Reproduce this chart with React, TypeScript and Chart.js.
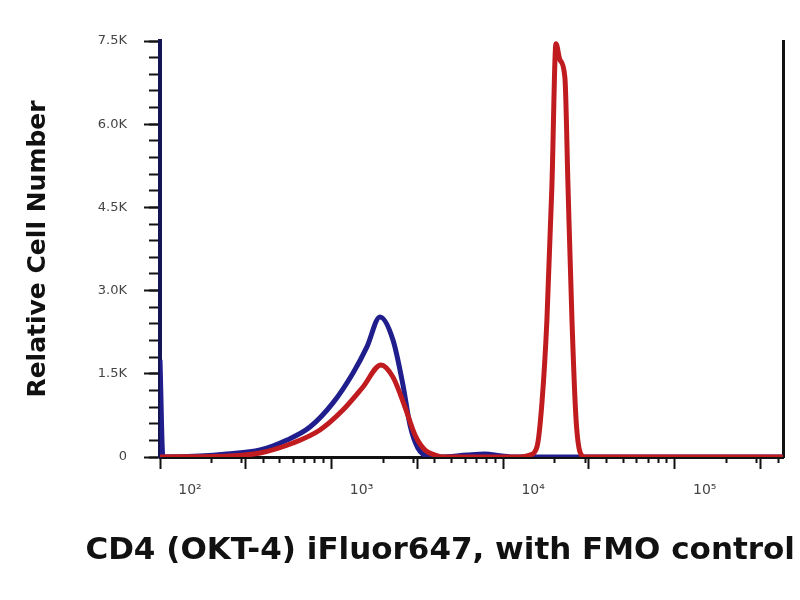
import React, { useEffect, useRef } from "react";
import { Chart, registerables } from "chart.js";

Chart.register(...registerables);

// ---- data (x = fluorescence intensity, y = cell count) ----
const blueX = [100, 104, 171, 245, 383, 550, 748, 1019, 1334, 1607, 1914, 2280, 2606, 2864, 3184, 3648, 4285, 6150, 7834, 9572, 11720, 427600];
const blueY = [1750, 0, 18, 54, 126, 306, 540, 975, 1515, 1985, 2525, 2110, 1300, 577, 162, 18, 0, 36, 54, 24, 0, 0];

const redX = [100, 256, 383, 596, 855, 1164, 1524, 1941, 2280, 2679, 3063, 3502, 4007, 4581, 12530, 14320, 15740, 16830, 17990, 19230, 20320, 21430, 22910, 23880, 25180, 26550, 28050, 29990, 427600];
const redY = [0, 18, 72, 252, 487, 847, 1262, 1660, 1440, 900, 397, 126, 36, 0, 0, 36, 180, 975, 2470, 4870, 7450, 7160, 6835, 4870, 2470, 720, 90, 0, 0];

const yMajorTicks = [0, 1500, 3000, 4500, 6000, 7500];
const yTickLabels = ["0", "1.5K", "3.0K", "4.5K", "6.0K", "7.5K"];
const yMinorStep = 300;

const xDecades = [100, 1000, 10000, 100000];
const xTickLabels = ["10\u00B2", "10\u00B3", "10\u2074", "10\u2075"];
const xMin = 100;
const xMax = 427600;
const yMax = 7500;

const xTitle = "CD4 (OKT-4) iFluor647, with FMO control";
const yTitle = "Relative Cell Number";

export default function App() {
  const ref = useRef<HTMLCanvasElement | null>(null);

  useEffect(() => {
    if (!ref.current) return;
    const blue = blueX.map((x, i) => ({ x, y: blueY[i] }));
    const red = redX.map((x, i) => ({ x, y: redY[i] }));

    const xMajor: number[] = [];
    xDecades.forEach((d) => {
      xMajor.push(d);
      if (d * Math.sqrt(10) <= xMax) xMajor.push(d * Math.sqrt(10));
    });
    const xMinorT: number[] = [];
    xDecades.forEach((d) => {
      for (let k = 2; k <= 9; k++) if (d * k <= xMax) xMinorT.push(d * k);
    });
    const yMinorT: number[] = [];
    for (let v = 0; v <= yMax; v += yMinorStep) yMinorT.push(v);

    const chart = new Chart(ref.current, {
      type: "line",
      data: {
        datasets: [
          {
            data: red,
            borderColor: "rgb(192,28,32)",
            borderWidth: 5,
            pointRadius: 0,
            cubicInterpolationMode: "monotone",
            fill: false,
          },
          {
            data: blue,
            borderColor: "rgb(32,30,140)",
            borderWidth: 5,
            pointRadius: 0,
            cubicInterpolationMode: "monotone",
            fill: false,
          },
        ],
      },
      options: {
        animation: false,
        responsive: false,
        layout: { padding: { top: 41, right: 5, left: 0, bottom: 0 } },
        plugins: {
          legend: { display: false },
          tooltip: { enabled: false },
          title: {
            display: true,
            position: "bottom",
            align: "end",
            text: xTitle,
            color: "#111",
            font: { family: "DejaVu Sans", size: 31, weight: "bold" },
            padding: { top: 10, bottom: 30 },
          },
        },
        scales: {
          x: {
            type: "logarithmic",
            position: "bottom",
            weight: 1,
            min: xMin,
            max: xMax,
            afterBuildTicks: (s: any) => {
              s.ticks = xMajor.map((v) => ({ value: v }));
            },
            afterFit: (s: any) => {
              s.height = 65.8;
            },
            grid: { drawOnChartArea: false, drawTicks: true, tickLength: 12, tickWidth: 2, tickColor: "#111" },
            border: { display: true, color: "#111", width: 3 },
            ticks: {
              autoSkip: false,
              maxRotation: 0,
              padding: 13,
              labelOffset: 30,
              color: "#444",
              font: { family: "DejaVu Sans", size: 14 },
              callback: (v: any) => {
                const i = xDecades.findIndex((d) => Math.abs(Number(v) / d - 1) < 1e-6);
                return i >= 0 ? xTickLabels[i] : "";
              },
            },
          },
          xMinor: {
            type: "logarithmic",
            position: "bottom",
            weight: 0,
            min: xMin,
            max: xMax,
            afterBuildTicks: (s: any) => {
              s.ticks = xMinorT.map((v) => ({ value: v }));
            },
            afterFit: (s: any) => {
              s.height = 0;
            },
            grid: { drawOnChartArea: false, drawTicks: true, tickLength: 6, tickWidth: 2, tickColor: "#111" },
            border: { display: false },
            ticks: { autoSkip: false, display: false, callback: () => "" },
          },
          y: {
            type: "linear",
            position: "left",
            weight: 1,
            min: 0,
            max: yMax,
            afterBuildTicks: (s: any) => {
              s.ticks = yMajorTicks.map((v) => ({ value: v }));
            },
            afterFit: (s: any) => {
              s.width = 160;
            },
            grid: { drawOnChartArea: false, drawTicks: true, tickLength: 16, tickWidth: 2, tickColor: "#111" },
            border: { display: true, color: "rgb(20,20,80)", width: 4 },
            ticks: {
              autoSkip: false,
              padding: 17,
              color: "#444",
              font: { family: "DejaVu Sans", size: 13 },
              callback: (v: any) => {
                const i = yMajorTicks.indexOf(Number(v));
                return i >= 0 ? yTickLabels[i] : "";
              },
            },
            title: {
              display: true,
              text: yTitle,
              color: "#111",
              font: { family: "DejaVu Sans", size: 25, weight: "bold" },
              padding: { top: 23, bottom: 0 },
            },
          },
          yMinor: {
            type: "linear",
            position: "left",
            weight: 0,
            min: 0,
            max: yMax,
            afterBuildTicks: (s: any) => {
              s.ticks = yMinorT.map((v) => ({ value: v }));
            },
            afterFit: (s: any) => {
              s.width = 0;
            },
            grid: { drawOnChartArea: false, drawTicks: true, tickLength: 11, tickWidth: 2, tickColor: "#111" },
            border: { display: false },
            ticks: { autoSkip: false, display: false, callback: () => "" },
          },
          yRight: {
            type: "linear",
            position: "right",
            min: 0,
            max: yMax,
            afterFit: (s: any) => {
              s.width = 12;
            },
            grid: { display: false, drawTicks: false },
            border: { display: true, color: "#111", width: 3 },
            ticks: { display: false },
          },
        },
      } as any,
    });
    return () => chart.destroy();
  }, []);

  return (
    <div style={{ position: "fixed", left: 0, top: 0, width: 800, height: 600, background: "#fff" }}>
      <canvas ref={ref} width={800} height={600} />
    </div>
  );
}
